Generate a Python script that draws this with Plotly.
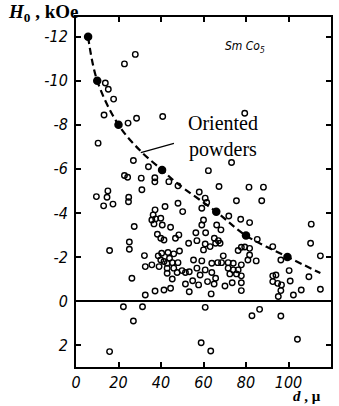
import plotly.graph_objects as go

# Open-circle measurements: grain size d (micron) vs coercive field H0 (kOe)
open_d = [13.8, 15.2, 17.7, 13.2, 22.8, 27.9, 24.5, 28.5,
          10.4, 27.0, 22.8, 24.3, 15.0, 9.6, 14.6, 13.0, 17.4, 24.8, 24.7, 27.4, 15.8, 25.1, 25.1, 26.3,
          40.8, 79.4,
          34.1, 30.7, 37.1, 37.1, 43.7, 31.0, 48.0, 58.0,
          73.2, 62.3, 67.3, 81.4, 88.2, 75.5, 87.4, 60.8, 61.5, 59.2, 60.0, 59.2, 71.9, 77.5, 81.7, 66.2,
          68.2, 85.3, 92.6, 110.7, 110.4, 115.0, 77.8, 79.4, 81.7,
          65.1, 67.0, 65.7, 67.8, 63.1, 76.3, 81.7, 80.9, 84.8, 69.3, 63.9, 66.7, 68.5, 71.6, 74.0, 77.8,
          71.6, 74.0, 76.3, 72.4, 75.5, 77.8, 63.9, 65.7, 92.6,
          96.4, 100.3, 109.6, 94.1,
          37.2, 41.9, 48.0, 50.2, 36.3, 39.9, 37.5, 35.7, 36.7, 40.6, 44.5, 56.4, 53.0, 56.9, 38.3, 39.9,
          41.4, 46.8, 48.4, 32.2, 38.7, 40.3, 43.3, 46.0, 48.7, 41.4, 42.9, 45.3, 44.0, 39.9, 48.0, 32.6,
          35.7, 39.1, 42.9, 46.0, 49.9, 55.3, 56.9, 42.9, 47.6, 51.5, 53.3, 45.3,
          61.0, 60.8, 60.0, 59.2, 60.8, 58.4,
          22.3, 31.3, 27.0, 32.6, 37.2, 41.4, 44.5, 51.5, 53.3, 54.9, 57.7, 61.9, 65.0, 63.6, 60.8, 70.1,
          73.5, 77.8, 77.8, 82.8, 86.4, 96.4, 92.6, 94.9, 96.7, 96.4, 95.2, 100.8, 102.3, 106.0, 115.0,
          58.9, 63.4, 104.2, 15.8]
open_h = [-9.9, -9.62, -9.17, -8.45, -10.77, -11.2, -8.08, -8.3,
          -7.17, -6.38, -5.7, -5.62, -5.0, -4.74, -4.71, -4.32, -4.4, -4.71, -4.51, -3.38, -2.29, -2.68, -2.35, -1.03,
          -8.38, -8.53,
          -6.1, -5.58, -5.6, -5.41, -5.42, -5.05, -5.23, -4.95,
          -6.29, -5.92, -5.2, -5.17, -5.17, -4.55, -4.55, -4.67, -4.47, -4.21, -3.68, -3.45, -3.86, -3.71, -3.56, -3.45,
          -3.23, -2.8, -2.47, -3.49, -2.62, -2.05, -2.44, -2.45, -2.39,
          -2.85, -2.74, -2.62, -2.62, -2.47, -2.29, -2.09, -1.86, -1.82, -2.05, -1.71, -1.74, -1.74, -1.74, -1.71, -1.64,
          -1.49, -1.41, -1.41, -1.23, -1.23, -1.14, -1.29, -1.03, -1.14,
          -1.86, -1.38, -1.1, -1.18,
          -4.14, -4.29, -4.44, -4.06, -3.91, -3.76, -3.73, -3.68, -3.5, -3.45, -3.35, -3.1, -2.62, -2.74, -3.03, -2.85,
          -2.77, -2.85, -3.0, -2.06, -2.05, -2.17, -2.2, -2.14, -2.27, -1.79, -1.71, -1.74, -1.94, -1.86, -1.74, -1.56,
          -1.64, -1.56, -1.49, -1.49, -1.38, -1.86, -1.49, -1.26, -1.29, -1.29, -1.33, -1.0,
          -3.1, -2.59, -2.32, -1.82, -1.41, -1.18,
          0.26, 0.26, 0.91, -0.27, -0.45, -0.5, -0.58, -0.77, -0.42, -0.92, -0.73, -0.88, -0.77, -0.32, 0.29, -0.68,
          -0.83, -0.83, -0.47, 0.67, 0.38, 0.68, -0.88, -0.8, -0.73, -0.47, -0.2, -0.91, -0.27, -0.5, -0.53,
          1.9, 2.27, 1.74, 2.3]

# Oriented powders (filled points) and the dashed curve through them
oriented_d = [5.7, 10, 20, 40.5, 66, 80, 99.5]
oriented_h = [-12, -10, -8, -5.95, -4.05, -2.97, -2.0]
curve_d = [5.7, 10, 20, 30.5, 40.5, 47.4, 66, 80, 99.5, 115]
curve_h = [-12, -10, -8, -6.8, -5.95, -5.36, -4.05, -2.97, -2.0, -1.27]

x_ticks = [0, 20, 40, 60, 80, 100, 120]
x_ticktext = ["<i>0</i>", "<i>20</i>", "<i>40</i>", "<i>60</i>", "<i>80</i>", "<i>100</i>", "<i>120</i>"]
y_ticks = [-12, -10, -8, -6, -4, -2, 0, 2]
y_ticktext = ["<i>-12</i>", "<i>-10</i>", "<i>-8</i>", "<i>-6</i>", "<i>-4</i>", "<i>-2</i>", "<i>0</i>", "<i>2</i>"]

tick_font = dict(family="Liberation Sans Narrow, DejaVu Sans Condensed, Liberation Sans, sans-serif",
                 size=16, color="black")
serif = "Liberation Serif, DejaVu Serif, serif"

fig = go.Figure()
fig.add_trace(go.Scatter(x=curve_d, y=curve_h, mode="lines",
                         line=dict(color="black", width=2.2, dash="7px,4px", shape="spline"),
                         hoverinfo="skip", showlegend=False))
fig.add_trace(go.Scatter(x=open_d, y=open_h, mode="markers",
                         marker=dict(symbol="circle-open", size=5.5, color="black", line=dict(width=1.4, color="black")),
                         showlegend=False))
fig.add_trace(go.Scatter(x=oriented_d, y=oriented_h, mode="markers",
                         marker=dict(symbol="circle", size=8.5, color="black"),
                         showlegend=False))

fig.update_layout(
    width=339, height=406,
    margin=dict(l=76, r=6, t=17, b=39),
    paper_bgcolor="white", plot_bgcolor="white",
    showlegend=False,
    xaxis=dict(range=[0, 120], tickvals=x_ticks, ticktext=x_ticktext,
               showgrid=False, zeroline=False, showline=True, linecolor="black", linewidth=2,
               mirror="ticks", ticks="inside", ticklen=5, tickwidth=1.5, tickcolor="black",
               tickfont=tick_font),
    yaxis=dict(range=[3, -12.9], tickvals=y_ticks, ticktext=y_ticktext,
               showgrid=False, zeroline=True, zerolinecolor="black", zerolinewidth=1.5,
               showline=True, linecolor="black", linewidth=2,
               mirror="ticks", ticks="inside", ticklen=5, tickwidth=1.5, tickcolor="black",
               ticklabelstandoff=3, tickfont=tick_font),
)

fig.add_annotation(xref="paper", yref="paper", x=-0.276, y=1.01, xanchor="left", yanchor="middle",
                   text="<b><i>H</i><sub>0</sub> , kOe</b>", showarrow=False,
                   font=dict(family=serif, size=19, color="black"))
fig.add_annotation(xref="paper", yref="paper", x=0.965, y=-0.083, xanchor="right", yanchor="middle",
                   text="<b><i>d</i> , μ</b>", showarrow=False, borderpad=0,
                   font=dict(family=serif, size=15, color="black"))
fig.add_annotation(x=79.5, y=-11.55, xref="x", yref="y",
                   text="<i>Sm Co<sub>5</sub></i>", showarrow=False,
                   font=dict(family="Liberation Sans Narrow, DejaVu Sans Condensed, sans-serif", size=12, color="black"))
fig.add_annotation(x=69.3, y=-7.45, xref="x", yref="y",
                   text="Oriented<br>powders", showarrow=False, align="center",
                   font=dict(family=serif, size=20, color="black"))
fig.add_annotation(x=30.5, y=-6.74, xref="x", yref="y", ax=46.8, ay=-7.18, axref="x", ayref="y",
                   text="", showarrow=True, arrowhead=0, arrowwidth=1.2, arrowcolor="black")

fig.write_html("out.html")
